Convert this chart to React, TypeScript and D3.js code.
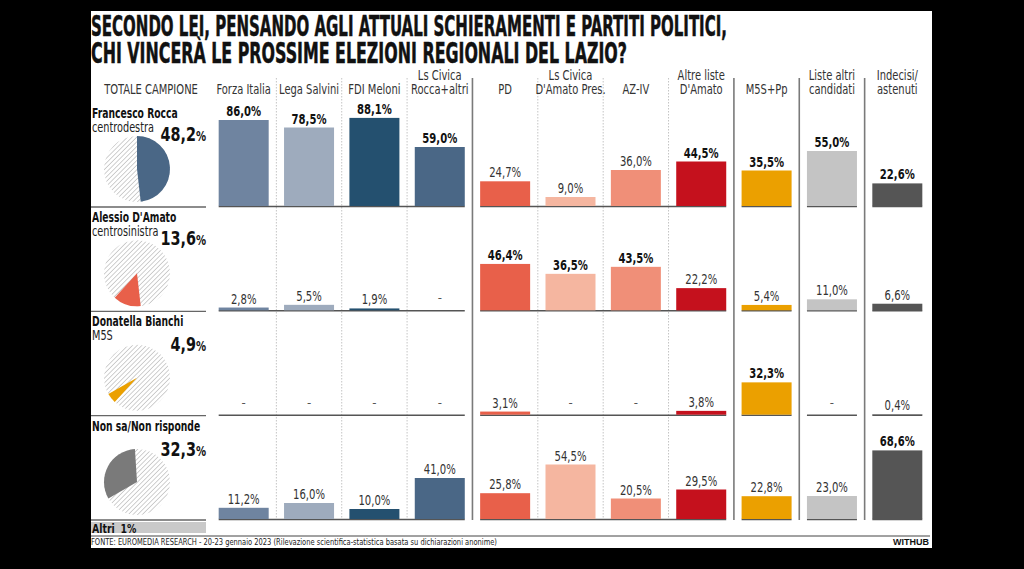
import React from "react";
import * as d3 from "d3";

const candidates = ["Francesco Rocca", "Alessio D'Amato", "Donatella Bianchi", "Non sa/Non risponde"];
const coalitions = ["centrodestra", "centrosinistra", "M5S", ""];
const totals = [48.2, 13.6, 4.9, 32.3];
const altriShare = 1;

const parties = [
  "Forza Italia", "Lega Salvini", "FDI Meloni", "Ls Civica\nRocca+altri", "PD",
  "Ls Civica\nD'Amato Pres.", "AZ-IV", "Altre liste\nD'Amato", "M5S+Pp",
  "Liste altri\ncandidati", "Indecisi/\nastenuti",
];
const partyColors = [
  "#6f84a0", "#9eabbd", "#24506f", "#4a6786", "#e8604a",
  "#f5b6a0", "#f08f78", "#c5111d", "#eba000", "#c4c4c4", "#555555",
];
const pieColors = ["#4a6786", "#e8604a", "#eba000", "#7a7a7a"];

const roccaValues = [86.0, 78.5, 88.1, 59.0, 24.7, 9.0, 36.0, 44.5, 35.5, 55.0, 22.6];
const damatoValues = [2.8, 5.5, 1.9, null, 46.4, 36.5, 43.5, 22.2, 5.4, 11.0, 6.6];
const bianchiValues = [null, null, null, null, 3.1, null, null, 3.8, 32.3, null, 0.4];
const nonSaValues = [11.2, 16.0, 10.0, 41.0, 25.8, 54.5, 20.5, 29.5, 22.8, 23.0, 68.6];

const roccaBold = [1, 1, 1, 1, 0, 0, 0, 1, 1, 1, 1];
const damatoBold = [0, 0, 0, 0, 1, 1, 1, 0, 0, 0, 0];
const bianchiBold = [0, 0, 0, 0, 0, 0, 0, 0, 1, 0, 0];
const nonSaBold = [0, 0, 0, 0, 0, 0, 0, 0, 0, 0, 1];

const rows = [roccaValues, damatoValues, bianchiValues, nonSaValues];
const boldRows = [roccaBold, damatoBold, bianchiBold, nonSaBold];

// groups of columns sharing one baseline; solid separators between groups
const groups = [[0, 3], [4, 7], [8, 8], [9, 9], [10, 10]];
const solidAfter = [3, 7, 8, 9];

const FONT = "'DejaVu Sans Condensed', 'DejaVu Sans', sans-serif";
const fmt = (v: number) => d3.format(".1f")(v).replace(".", ",");

const PX = 91, PR = 932, PT = 11, PB = 548;

// condensed text: squeeze glyphs horizontally
const T = ({ x, y, sx = 0.82, children, ...rest }: any) => (
  <text transform={`translate(${x},${y}) scale(${sx},1)`} {...rest}>{children}</text>
);

const App = () => {
  const x = d3.scaleBand<string>()
    .domain(parties)
    .range([211, 930])
    .paddingInner(0.235)
    .paddingOuter(0.1175);
  const step = x.step();
  const bw = x.bandwidth();
  const h = d3.scaleLinear().domain([0, 100]).range([0, 100]);
  const rowBase = d3.scaleLinear().domain([0, 3]).range([206, 519]);

  const pie = d3.pie<number>().value(d => d).sort(null);
  const arcs = pie([...totals, altriShare]);
  const arc = d3.arc<d3.PieArcDatum<number>>().innerRadius(0).outerRadius(33);

  const sepX = (i: number) => (x(parties[i]) as number) + bw + (step - bw) / 2;

  return (
    <div style={{ position: "absolute", left: 0, top: 0 }}>
      <svg width={1024} height={569} style={{ display: "block" }} fontFamily={FONT}>
        <defs>
          <pattern id="hatch" width={3.3} height={3.3} patternUnits="userSpaceOnUse" patternTransform="rotate(45)">
            <line x1={0} y1={0} x2={0} y2={3.3} stroke="#959595" strokeWidth={0.9} />
          </pattern>
        </defs>
        <rect width={1024} height={569} fill="#000" />
        <rect x={PX} y={PT} width={PR - PX} height={PB - PT} fill="#fff" />

        {/* title */}
        <text x={PX} y={36} fontSize={27.5} fontWeight="bold" fill="#111" stroke="#111" strokeWidth={0.5}
          textLength={636} lengthAdjust="spacingAndGlyphs">
          SECONDO LEI, PENSANDO AGLI ATTUALI SCHIERAMENTI E PARTITI POLITICI,
        </text>
        <text x={PX} y={63} fontSize={27.5} fontWeight="bold" fill="#111" stroke="#111" strokeWidth={0.5}
          textLength={536} lengthAdjust="spacingAndGlyphs">
          CHI VINCERÀ LE PROSSIME ELEZIONI REGIONALI DEL LAZIO?
        </text>

        {/* column separators */}
        {parties.slice(0, -1).map((p, i) => {
          const solid = solidAfter.includes(i);
          return (
            <line key={p} x1={sepX(i)} x2={sepX(i)} y1={78} y2={520}
              stroke={solid ? "#7a7a7a" : "#c4c4c4"} strokeWidth={solid ? 1.6 : 1}
              strokeDasharray={solid ? undefined : "1.5,1.5"} />
          );
        })}

        {/* header */}
        <T x={151} y={94} fontSize={13.5} fill="#333" textAnchor="middle">TOTALE CAMPIONE</T>
        {parties.map(p => {
          const lines = p.split("\n");
          const cx = (x(p) as number) + bw / 2;
          return (
            <g key={p}>
              {lines.map((l, j) => (
                <T key={j} x={cx} y={94 - (lines.length - 1 - j) * 14} fontSize={13.5} fill="#333" textAnchor="middle">{l}</T>
              ))}
            </g>
          );
        })}

        {/* rows */}
        {rows.map((vals, r) => {
          const base = rowBase(r);
          const top = r === 0 ? 103 : rowBase(r - 1) + 1;
          return (
            <g key={r}>
              <T x={PX + 1} y={top + 15} sx={0.76} fontSize={13.5} fontWeight="bold" fill="#111">{candidates[r]}</T>
              {coalitions[r] && (
                <T x={PX + 1} y={top + 29} sx={0.8} fontSize={13.5} fill="#222">{coalitions[r]}</T>
              )}
              <T x={206} y={top + 38 + (r >= 2 ? 2 : 0)} sx={0.8} textAnchor="end" fontWeight="bold" fill="#111" fontSize={20}>
                {fmt(totals[r])}<tspan fontSize={14}>%</tspan>
              </T>
              <g transform={`translate(137,${base - 37})`}>
                <circle r={33} fill="url(#hatch)" />
                <path d={arc(arcs[r]) as string} fill={pieColors[r]} />
              </g>
              <line x1={PX} x2={206} y1={base + 1} y2={base + 1} stroke="#666" strokeWidth={1.3} />

              {groups.map(([a, b], gi) => (
                <line key={gi} x1={x(parties[a]) as number} x2={(x(parties[b]) as number) + bw}
                  y1={base + 0.5} y2={base + 0.5} stroke="#555" strokeWidth={1.5} />
              ))}
              {vals.map((v, i) => {
                const bx = x(parties[i]) as number;
                const cx = bx + bw / 2;
                if (v === null) {
                  return <text key={i} x={cx} y={base - 8} textAnchor="middle" fontSize={13} fill="#555">-</text>;
                }
                const bh = h(v);
                const bold = boldRows[r][i] === 1;
                return (
                  <g key={i}>
                    <rect x={bx} y={base - bh} width={bw} height={bh} fill={partyColors[i]} />
                    <T x={cx} y={base - bh - 4} sx={0.8} textAnchor="middle" fontSize={14}
                      fontWeight={bold ? "bold" : "normal"} fill={bold ? "#111" : "#333"}>
                      {fmt(v)}%
                    </T>
                  </g>
                );
              })}
            </g>
          );
        })}

        {/* altri */}
        <rect x={PX} y={522} width={206 - PX} height={11} fill="#c9c9c9" />
        <T x={PX + 1} y={532.5} sx={0.8} fontSize={13} fontWeight="bold" fill="#111">
          Altri <tspan dx={3}>{altriShare}%</tspan>
        </T>

        {/* footer */}
        <line x1={PX} x2={PR - 2} y1={536} y2={536} stroke="#444" strokeWidth={1} />
        <text x={PX} y={545} fontSize={9} fill="#222" textLength={406} lengthAdjust="spacingAndGlyphs">
          FONTE: EUROMEDIA RESEARCH - 20-23 gennaio 2023 (Rilevazione scientifica-statistica basata su dichiarazioni anonime)
        </text>
        <text x={929} y={545} fontSize={9} fontWeight="bold" fill="#111" textAnchor="end"
          fontFamily="'Liberation Sans', Arial, sans-serif">WITHUB</text>
      </svg>
    </div>
  );
};

export default App;
